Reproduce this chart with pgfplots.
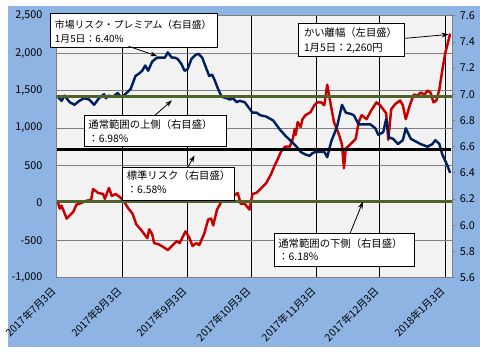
\documentclass[border=0pt]{standalone}
\usepackage{fontspec}
\setmainfont{Noto Sans CJK JP}
\usepackage{pgfplots}
\usepackage{pgfplotstable}
\pgfplotsset{compat=1.18}
\usetikzlibrary{arrows.meta}
\definecolor{bgblue}{RGB}{142,180,227}
\definecolor{plotbg}{RGB}{242,242,242}
\definecolor{cred}{RGB}{200,0,0}
\definecolor{cblue}{RGB}{0,32,96}
\definecolor{cgreen}{RGB}{79,98,40}
\definecolor{cgrid}{RGB}{128,128,128}

% day index: 0 = 2017-07-03
\pgfplotstableread{
d v
0.5 13
1.4 -79
2.3 -39
4.7 -211
6.1 -171
7.9 -118
9.3 -26
10.7 -13
14.0 26
16.3 39
17.2 184
19.6 132
21.9 118
22.8 53
24.7 197
26.1 92
27.9 118
30.3 66
31.7 26
34.0 -79
35.9 -145
37.7 -289
40.5 -382
42.9 -474
43.8 -355
45.2 -421
46.1 -539
48.0 -553
49.8 -579
52.6 -632
54.5 -579
56.8 -513
58.2 -539
61.0 -382
62.9 -474
64.3 -579
66.1 -539
67.5 -566
69.9 -408
71.7 -224
73.1 -211
74.1 -303
75.9 -92
78.2 26
80.6 39
82.0 53
85.7 132
87.1 -13
89.0 -13
91.3 -92
92.7 118
94.6 132
96.9 197
99.2 263
101.5 382
103.4 513
104.8 592
106.2 684
108.1 750
110.4 750
111.8 855
112.7 987
113.2 908
114.1 1079
115.5 1013
116.4 1118
117.8 1171
120.2 1211
122.0 1303
123.4 1342
125.3 1342
126.7 1303
128.1 1579
130.0 1276
131.3 1079
133.7 908
135.1 776
136.0 461
136.9 724
139.3 789
141.6 855
143.0 1079
144.4 1171
146.7 1118
149.0 1237
151.4 1342
153.2 1303
154.6 1250
156.0 1197
157.0 842
158.4 1250
160.2 1316
162.6 1368
163.9 1303
165.3 1118
167.2 1303
169.1 1447
170.9 1434
172.3 1474
174.2 1447
175.6 1500
177.0 1474
178.4 1342
179.8 1368
181.2 1513
182.6 1776
184.0 2000
186.3 2260
}\gap

\pgfplotstableread{
d v
0 6.99
2.3 6.95
3.7 6.99
6.1 6.94
8.4 6.92
10.7 6.95
13.0 6.97
15.4 6.96
17.7 6.92
20.0 6.97
22.4 7.00
23.3 6.97
24.7 6.99
26.5 6.98
28.9 7.01
30.3 6.98
31.7 6.99
35.0 7.04
37.3 7.14
39.1 7.16
40.5 7.18
41.9 7.22
43.3 7.18
45.2 7.25
47.5 7.28
49.8 7.28
51.2 7.28
52.6 7.32
54.5 7.28
55.9 7.28
57.3 7.27
59.1 7.23
60.5 7.18
61.9 7.19
63.8 7.27
65.7 7.30
67.1 7.31
68.9 7.28
70.3 7.22
72.2 7.14
73.6 7.15
75.0 7.10
76.4 7.04
78.2 6.98
80.6 6.97
82.0 6.96
83.4 6.97
85.2 6.94
86.6 6.95
89.0 6.94
91.3 6.89
92.7 6.86
94.6 6.86
96.4 6.84
99.2 6.83
102.5 6.80
105.7 6.73
108.5 6.68
111.8 6.63
114.1 6.59
115.5 6.56
117.8 6.54
119.7 6.53
121.1 6.55
122.5 6.56
124.4 6.56
126.7 6.56
128.1 6.52
130.0 6.64
132.7 6.75
135.1 6.92
136.9 6.86
139.3 6.85
140.7 6.84
143.0 6.77
145.3 6.77
148.6 6.77
150.9 6.74
152.3 6.69
154.6 6.71
156.0 6.81
157.4 6.67
159.3 6.66
161.6 6.62
163.9 6.65
165.3 6.74
167.7 6.66
170.0 6.64
172.3 6.62
175.6 6.60
177.9 6.62
179.3 6.65
181.2 6.62
182.6 6.54
184.9 6.46
186.3 6.40
}\premium

\begin{document}
\begin{tikzpicture}[x=1pt,y=1pt]
\fill[white] (0,0) rectangle (480,360);
\fill[bgblue] (0,7) rectangle (480,354);
\begin{axis}[
  at={(50pt,78pt)}, anchor=south west, scale only axis,
  width=402pt, height=266pt,
  xmin=0, xmax=187.4, ymin=-1000, ymax=2500,
  axis background/.style={fill=plotbg},
  axis line style={cgrid, line width=0.8pt},
  xtick={0,31,62,92,123,153,184},
  xticklabels={2017年7月3日,2017年8月3日,2017年9月3日,2017年10月3日,2017年11月3日,2017年12月3日,2018年1月3日},
  xtick pos=bottom, ytick pos=left,
  major tick length=0pt,
  ytick={-1000,-500,0,500,1000,1500,2000,2500},
  yticklabels={{-1,000},{-500},{0},{500},{1,000},{1,500},{2,000},{2,500}},
  xmajorgrids, ymajorgrids,
  x grid style={black, line width=0.8pt},
  y grid style={cgrid, line width=0.8pt},
  yticklabel style={font=\fontsize{11}{13}\selectfont, anchor=east},
  yticklabel shift=11pt,
  xticklabel style={font=\fontsize{10.5}{12}\selectfont, rotate=45, anchor=east},
  xticklabel shift=9pt,
]
\addplot[cred, line width=2.5pt, line join=round] table[x=d, y=v] {\gap};
\end{axis}
\begin{axis}[
  at={(50pt,78pt)}, anchor=south west, scale only axis,
  width=402pt, height=266pt,
  xmin=0, xmax=187.4, ymin=5.6, ymax=7.6,
  hide x axis, axis y line*=right,
  axis line style={cgrid, line width=0.8pt},
  ytick={5.6,5.8,6.0,6.2,6.4,6.6,6.8,7.0,7.2,7.4,7.6},
  yticklabels={5.6,5.8,6.0,6.2,6.4,6.6,6.8,7.0,7.2,7.4,7.6},
  major tick length=3pt, tick align=outside, tick style={cgrid, line width=0.8pt},
  yticklabel style={font=\fontsize{11}{13}\selectfont, anchor=west},
  yticklabel shift=1pt,
]
\addplot[cblue, line width=2.5pt, line join=round] table[x=d, y=v] {\premium};
\addplot[cgreen, line width=3pt] coordinates {(0,6.98) (187.4,6.98)};
\addplot[black, line width=3pt] coordinates {(0,6.58) (186.5,6.58)};
\addplot[cgreen, line width=3pt] coordinates {(0,6.18) (187.4,6.18)};
\end{axis}

\tikzset{lbl/.style={anchor=west, inner sep=0pt, font=\fontsize{10.5}{12}\selectfont},
  arr/.style={-{Stealth[length=7pt,width=5pt]}, line width=0.8pt}}
% box 1
\draw[line width=0.8pt, fill=white] (44,346) rectangle (213,312);
\node[lbl, font=\fontsize{10}{12}\selectfont] at (48,335) {市場リスク・プレミアム（右目盛）};
\node[lbl, font=\fontsize{10}{12}\selectfont] at (48,320) {1月5日：6.40\%};
\draw[arr] (123,313) -- (152,303);
% box 2
\draw[line width=0.8pt, fill=white] (296,336) rectangle (403,303);
\node[lbl] at (301,327) {かい離幅（左目盛）};
\node[lbl] at (301,311) {1月5日：2,260円};
\draw[arr] (403,321) -- (448,325);
% box 3
\draw[line width=0.8pt, fill=white] (78,243) rectangle (222,211);
\node[lbl] at (82,233) {通常範囲の上側（右目盛）};
\node[lbl] at (82,219) {：6.98\%};
\draw[arr] (150,243) -- (167,258);
% box 4
\draw[line width=0.8pt, fill=white] (117,190) rectangle (230,156);
\node[lbl] at (121,182) {標準リスク（右目盛）};
\node[lbl] at (121,167) {：6.58\%};
\draw[arr] (183,190) -- (190,202);
% box 5
\draw[line width=0.8pt, fill=white] (271,123) rectangle (413,89);
\node[lbl] at (275,113) {通常範囲の下側（右目盛）};
\node[lbl] at (275,99) {：6.18\%};
\draw[arr] (348,123) -- (361,155);
\end{tikzpicture}
\end{document}
